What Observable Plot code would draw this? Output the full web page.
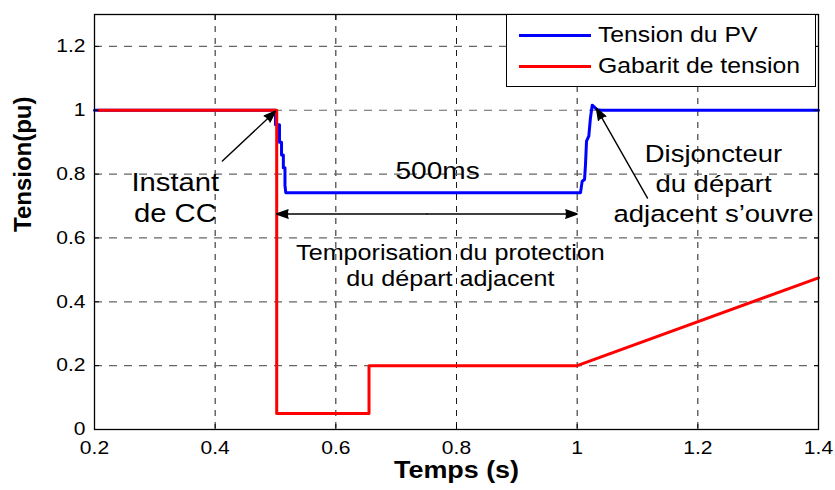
<!DOCTYPE html>
<html>
<head>
<meta charset="utf-8">
<script src="https://cdn.jsdelivr.net/npm/d3@7"></script>
<script src="https://cdn.jsdelivr.net/npm/@observablehq/plot@0.6"></script>
<style>
  html, body { margin: 0; padding: 0; background: #fff; }
  #wrap { position: relative; width: 835px; height: 490px; font-family: "Liberation Sans", Arial, sans-serif; }
  .legend-box { position: absolute; left: 506px; top: 14px; width: 310px; height: 73px; box-sizing: border-box; border: 1.5px solid #000; background: #fff; }
  .legend-line { position: absolute; left: 519px; width: 72px; height: 3px; }
  .legend-text { position: absolute; left: 598px; height: 24px; line-height: 24px; font-size: 21.5px; color: #000; white-space: nowrap; transform: scaleX(1.15); transform-origin: left center; }
</style>
</head>
<body>
<div id="wrap"></div>
<script>
// ---- data ----
const xTicks = [0.2, 0.4, 0.6, 0.8, 1.0, 1.2, 1.4];
const yTicks = [0, 0.2, 0.4, 0.6, 0.8, 1.0, 1.2];

// Tension du PV (blue)
const pvTime = [0.2, 0.500, 0.500, 0.5066, 0.5066, 0.510, 0.510, 0.513, 0.513, 0.5157, 0.5157, 0.517, 1.0056, 1.0083, 1.0122, 1.0138, 1.0155, 1.0193, 1.022, 1.025, 1.033, 1.04, 1.4];
const pvVolt = [1.0, 1.0, 0.955, 0.955, 0.90, 0.90, 0.86, 0.86, 0.82, 0.82, 0.765, 0.742, 0.742, 0.778, 0.783, 0.83, 0.903, 0.919, 0.976, 1.016, 1.002, 1.0, 1.0];

// Gabarit de tension (red)
const gabTime = [0.207, 0.502, 0.502, 0.655, 0.655, 1.0, 1.4];
const gabVolt = [1.0, 1.0, 0.05, 0.05, 0.2, 0.2, 0.475];

// Legend
const seriesNames = ["Tension du PV", "Gabarit de tension"];
const seriesColors = ["#0000ff", "#ff0000"];

// Annotations
const noteCC = [{t: 0.334, v: 0.772, s: "Instant"}, {t: 0.334, v: 0.675, s: "de CC"}];
const note500 = [{t: 0.7686, v: 0.809, s: "500ms"}];
const noteTempo = [{t: 0.790, v: 0.553, s: "Temporisation du protection"}, {t: 0.790, v: 0.472, s: "du départ adjacent"}];
const noteDisj = [{t: 1.226, v: 0.8625, s: "Disjoncteur"}, {t: 1.226, v: 0.769, s: "du départ"}, {t: 1.226, v: 0.672, s: "adjacent s’ouvre"}];
const arrowX1 = [0.412, 1.1166, 0.751, 0.751];
const arrowY1 = [0.841, 0.725, 0.675, 0.675];
const arrowX2 = [0.500, 1.032, 0.502, 1.0];
const arrowY2 = [0.997, 1.006, 0.675, 0.675];

// ---- tables ----
const pv = pvTime.map((t, i) => ({t, v: pvVolt[i]}));
const gab = gabTime.map((t, i) => ({t, v: gabVolt[i]}));
const arrows = arrowX1.map((x1, i) => ({x1, y1: arrowY1[i], x2: arrowX2[i], y2: arrowY2[i]}));
const fmt = d => String(+d.toFixed(1));

const chart = Plot.plot({
  width: 835,
  height: 490,
  marginLeft: 94,
  marginRight: 17,
  marginTop: 14,
  marginBottom: 61,
  style: {fontFamily: "'Liberation Sans', Arial, sans-serif", fontSize: "18px", color: "#000", background: "#fff", overflow: "visible"},
  x: {domain: [0.2, 1.4]},
  y: {domain: [0, 1.3]},
  marks: [
    Plot.ruleX(xTicks.slice(1, -1), {stroke: "#000", strokeWidth: 0.9, strokeDasharray: "6,6"}),
    Plot.ruleY(yTicks.slice(1), {stroke: "#666", strokeWidth: 1.2, strokeDasharray: "8,7"}),
    Plot.line(pv, {x: "t", y: "v", stroke: seriesColors[0], strokeWidth: 3}),
    Plot.line(gab, {x: "t", y: "v", stroke: seriesColors[1], strokeWidth: 3}),
    Plot.frame({stroke: "#000", strokeWidth: 1.3}),
    Plot.axisX({ticks: xTicks, tickFormat: fmt, tickSize: 0, tickPadding: 12, label: null, fontSize: 18}),
    Plot.axisX({ticks: xTicks, tickFormat: () => "", tickSize: -5, label: null}),
    Plot.axisX({ticks: xTicks, tickFormat: () => "", tickSize: -5, label: null, anchor: "top"}),
    Plot.axisY({ticks: yTicks, tickFormat: fmt, tickSize: 0, tickPadding: 9, label: null, fontSize: 18}),
    Plot.axisY({ticks: yTicks, tickFormat: () => "", tickSize: -5, label: null}),
    Plot.axisY({ticks: yTicks, tickFormat: () => "", tickSize: -5, label: null, anchor: "right"}),
    Plot.arrow(arrows, {x1: "x1", y1: "y1", x2: "x2", y2: "y2", stroke: "#000", strokeWidth: 1.4, headLength: 13, headAngle: 40}),
    Plot.text(noteCC, {x: "t", y: "v", text: "s", fontSize: 25, fill: "#000"}),
    Plot.text(note500, {x: "t", y: "v", text: "s", fontSize: 24, fill: "#000"}),
    Plot.text(noteTempo, {x: "t", y: "v", text: "s", fontSize: 21.5, fill: "#000"}),
    Plot.text(noteDisj, {x: "t", y: "v", text: "s", fontSize: 23.5, fill: "#000"}),
    Plot.text(["Temps (s)"], {frameAnchor: "bottom", dy: 48, fontSize: 23, fontWeight: "bold", fill: "#000"}),
    Plot.text(["Tension(pu)"], {frameAnchor: "left", dx: -71, dy: 10, rotate: -90, fontSize: 24, fontWeight: "bold", fill: "#000"})
  ]
});

const wrap = document.getElementById("wrap");
wrap.appendChild(chart);

// filled arrowheads
chart.querySelectorAll('g[aria-label="arrow"] path').forEach(p => {
  p.setAttribute("fill", "#000");
  p.setAttribute("stroke-linejoin", "miter");
});

// horizontal stretch of the text, as in the reference picture
function stretchTexts(svg, k) {
  svg.querySelectorAll("text").forEach(el => {
    const tr = el.getAttribute("transform") || "";
    if (tr.includes("rotate")) return;
    if (!el.textContent) return;
    const bb = el.getBBox();
    const anchor = getComputedStyle(el).textAnchor;
    const cx = anchor === "middle" ? bb.x + bb.width / 2 : anchor === "end" ? bb.x + bb.width : bb.x;
    el.setAttribute("transform", `${tr} translate(${cx},0) scale(${k},1) translate(${-cx},0)`);
  });
}
stretchTexts(chart, 1.17);

// legend
const box = document.createElement("div");
box.className = "legend-box";
wrap.appendChild(box);
const legendY = [35, 66];
seriesNames.forEach((name, i) => {
  const line = document.createElement("div");
  line.className = "legend-line";
  line.style.top = (legendY[i] - 1.5) + "px";
  line.style.background = seriesColors[i];
  wrap.appendChild(line);
  const txt = document.createElement("div");
  txt.className = "legend-text";
  txt.style.top = (legendY[i] - 12) + "px";
  txt.textContent = name;
  wrap.appendChild(txt);
});
</script>
</body>
</html>
